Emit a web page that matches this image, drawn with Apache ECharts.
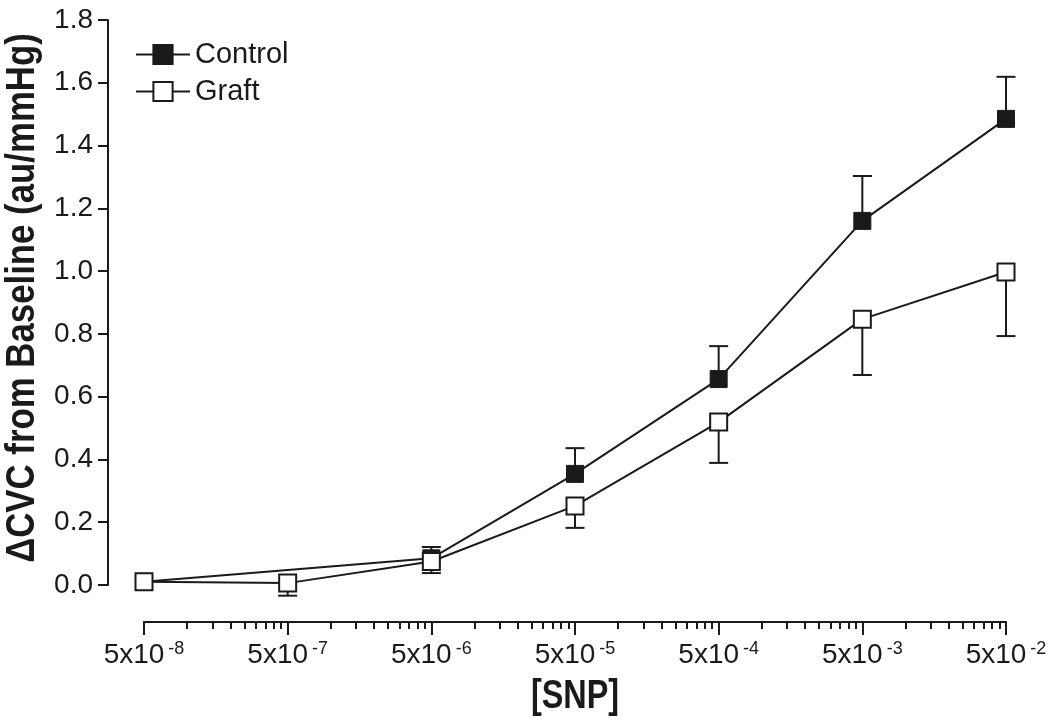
<!DOCTYPE html>
<html>
<head>
<meta charset="utf-8">
<script src="https://cdn.jsdelivr.net/npm/echarts@6/dist/echarts.min.js"></script>
<style>
html,body{margin:0;padding:0;background:#fff;}
#chart{width:1050px;height:721px;}
</style>
</head>
<body>
<div id="chart"></div>
<script>
// ---- data ----
const concentrations = [5e-8, 5e-7, 5e-6, 5e-5, 5e-4, 5e-3, 5e-2];
const xExponents = ['-8', '-7', '-6', '-5', '-4', '-3', '-2'];
const controlMean = [0.010, null, 0.085, 0.354, 0.656, 1.160, 1.485];
const controlSEM  = [0,     null, 0.036, 0.082, 0.105, 0.143, 0.134];
const graftMean   = [0.010, 0.006, 0.075, 0.252, 0.519, 0.847, 0.997];
const graftSEM    = [0,     0.040, 0.037, 0.070, 0.130, 0.178, 0.204];
const seriesNames = ['Control', 'Graft'];
const yName = '\u0394CVC from Baseline (au/mmHg)';
const xName = '[SNP]';

// ---- build ----
const INK = '#1a1a1a';
const FONT = "'Liberation Sans', Arial, sans-serif";

const minorTicks = [];
for (let i = 0; i < concentrations.length - 1; i++) {
  for (let k = 2; k <= 9; k++) minorTicks.push(concentrations[i] * k);
}
function nearestIndex(v) {
  let best = 0, bd = Infinity;
  concentrations.forEach((c, i) => {
    const d = Math.abs(Math.log10(v) - Math.log10(c));
    if (d < bd) { bd = d; best = i; }
  });
  return best;
}
const pairs = (arr) => concentrations.map((c, i) => [c, arr[i]]);
const errData = (mean, sem, dir) => concentrations
  .map((c, i) => [c, mean[i], sem[i], dir])
  .filter(d => d[1] != null && d[2]);

function errRender(params, api) {
  const x = api.value(0), v = api.value(1), e = api.value(2), dir = api.value(3);
  const p0 = api.coord([x, v]);
  const p1 = api.coord([x, v + dir * e]);
  const hw = 9.5;
  const st = { stroke: INK, lineWidth: 2 };
  return {
    type: 'group',
    children: [
      { type: 'line', shape: { x1: p0[0], y1: p0[1], x2: p1[0], y2: p1[1] }, style: st },
      { type: 'line', shape: { x1: p1[0] - hw, y1: p1[1], x2: p1[0] + hw, y2: p1[1] }, style: st }
    ]
  };
}

const baseXAxis = {
  type: 'log',
  logBase: 10,
  min: concentrations[0],
  max: concentrations[concentrations.length - 1],
  position: 'bottom',
  offset: 37,
  splitLine: { show: false },
  minorTick: { show: false },
  axisLine: { show: true, onZero: false, lineStyle: { color: INK, width: 2 } }
};

const option = {
  animation: false,
  backgroundColor: '#fff',
  grid: { left: 144, right: 44, top: 20, bottom: 136, containLabel: false, outerBoundsMode: 'none' },
  legend: {
    orient: 'vertical',
    left: 130,
    top: 35,
    itemWidth: 54,
    itemHeight: 24,
    itemGap: 8,
    textStyle: { fontSize: 29, color: INK, fontFamily: FONT },
    data: seriesNames
  },
  graphic: [
    {
      type: 'text',
      x: 23, y: 298,
      rotation: Math.PI / 2,
      scaleX: 0.87,
      style: {
        text: yName, fontSize: 40, fontWeight: 'bold', fontFamily: FONT, fill: INK,
        textAlign: 'center', textVerticalAlign: 'middle'
      }
    },
    {
      type: 'text',
      x: 575, y: 697,
      scaleX: 0.81,
      style: {
        text: xName, fontSize: 40, fontWeight: 'bold', fontFamily: FONT, fill: INK,
        textAlign: 'center', textVerticalAlign: 'middle'
      }
    }
  ],
  xAxis: [
    Object.assign({}, baseXAxis, {
      axisTick: { show: true, length: 13, lineStyle: { color: INK, width: 2 }, customValues: concentrations },
      axisLabel: {
        show: true,
        margin: 18,
        customValues: concentrations,
        formatter: function (v) {
          return '{b|5x10}{s|' + xExponents[nearestIndex(v)] + '}';
        },
        rich: {
          b: { fontSize: 28, fontFamily: FONT, color: INK, lineHeight: 30 },
          s: { fontSize: 18, fontFamily: FONT, color: INK, verticalAlign: 'top', padding: [0, 0, 0, 4] }
        }
      }
    }),
    Object.assign({}, baseXAxis, {
      axisTick: { show: true, length: 7, lineStyle: { color: INK, width: 2 }, customValues: minorTicks },
      axisLabel: { show: false }
    })
  ],
  yAxis: {
    type: 'value',
    min: 0,
    max: 1.8,
    interval: 0.2,
    offset: 36,
    splitLine: { show: false },
    axisLine: { show: true, onZero: false, lineStyle: { color: INK, width: 2 } },
    axisTick: { show: true, length: 10, lineStyle: { color: INK, width: 2 } },
    axisLabel: {
      margin: 15,
      fontSize: 28,
      color: INK,
      fontFamily: FONT,
      formatter: (v) => v.toFixed(1)
    }
  },
  series: [
    {
      name: 'ControlErr', type: 'custom', xAxisIndex: 0, z: 1,
      renderItem: errRender, data: errData(controlMean, controlSEM, 1), silent: true
    },
    {
      name: 'GraftErr', type: 'custom', xAxisIndex: 0, z: 1,
      renderItem: errRender, data: errData(graftMean, graftSEM, -1), silent: true
    },
    {
      name: seriesNames[0], type: 'line', xAxisIndex: 0, z: 3,
      data: pairs(controlMean),
      connectNulls: true,
      symbol: 'rect', symbolSize: 17,
      lineStyle: { color: INK, width: 2 },
      itemStyle: { color: INK, borderColor: INK, borderWidth: 1 }
    },
    {
      name: seriesNames[1], type: 'line', xAxisIndex: 0, z: 4,
      data: pairs(graftMean),
      symbol: 'rect', symbolSize: 17,
      lineStyle: { color: INK, width: 2 },
      itemStyle: { color: '#ffffff', borderColor: INK, borderWidth: 2 }
    }
  ]
};

const chart = echarts.init(document.getElementById('chart'), null, { renderer: 'canvas' });
chart.setOption(option);
</script>
</body>
</html>
